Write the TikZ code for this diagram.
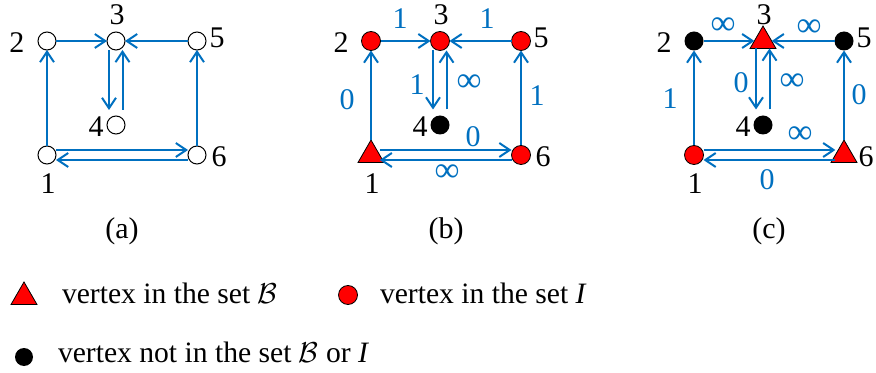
\documentclass[tikz,border=0pt]{standalone}
\usepackage{fontspec}
\setmainfont{Liberation Serif}
\usetikzlibrary{arrows.meta,shapes.geometric,calc}
\definecolor{eblue}{HTML}{0070C0}
\begin{document}
\begin{tikzpicture}[x=0.5pt,y=-0.5pt,
  every node/.style={inner sep=0pt, outer sep=0pt},
  arr/.style={draw=eblue, line width=1pt, -{Straight Barb[length=5.2pt,width=7pt]}},
  vopen/.style={circle, draw=black, fill=white, line width=0.5pt, minimum size=9pt},
  vred/.style={circle, draw=black, fill=red, line width=0.4pt, minimum size=9.5pt},
  vblack/.style={circle, fill=black, minimum size=9.5pt},
  vtri/.style={regular polygon, regular polygon sides=3, draw=black, fill=red, line width=0.4pt, minimum size=15pt},
  lab/.style={font=\fontsize{15}{17}\selectfont},
  elab/.style={font=\fontsize{15}{17}\selectfont, text=eblue},
  einf/.style={font=\fontsize{17.5}{19}\selectfont, text=eblue},
  leg/.style={font=\fontsize{14.8}{17}\selectfont, anchor=base west}]
\useasboundingbox (0,0) rectangle (876,373);

% ---- panel (a)
\node[vopen] (a1) at (47,155) {};
\node[vopen] (a2) at (47,41) {};
\node[vopen] (a3) at (116,41) {};
\node[vopen] (a4) at (116,125) {};
\node[vopen] (a5) at (197,41) {};
\node[vopen] (a6) at (197,155) {};

% ---- panel (b)
\begin{scope}[shift={(324,0)}]
\node[vtri] (b1) at (47,155) {};
\node[vred] (b2) at (47,41) {};
\node[vred] (b3) at (116,41) {};
\node[vblack] (b4) at (116,125) {};
\node[vred] (b5) at (197,41) {};
\node[vred] (b6) at (197,155) {};
\node[elab] (b-e23) at (76,19) {1};
\node[elab] (b-e53) at (163,19) {1};
\node[elab] (b-e34) at (93,85) {1};
\node[einf] (b-e43) at (145,83) {∞};
\node[elab] (b-e12) at (23,100) {0};
\node[elab] (b-e65) at (213,96) {1};
\node[elab] (b-e16) at (149,137) {0};
\node[einf] (b-e61) at (123,173) {∞};
\end{scope}

% ---- panel (c)
\begin{scope}[shift={(647,0)}]
\node[vred] (c1) at (47,155) {};
\node[vblack] (c2) at (47,41) {};
\node[vtri] (c3) at (116,41) {};
\node[vblack] (c4) at (116,125) {};
\node[vblack] (c5) at (197,41) {};
\node[vtri] (c6) at (197,155) {};
\node[einf] (c-e23) at (76,26) {∞};
\node[einf] (c-e53) at (162,28) {∞};
\node[elab] (c-e34) at (94,83) {0};
\node[einf] (c-e43) at (145,82) {∞};
\node[elab] (c-e12) at (23,99) {1};
\node[elab] (c-e65) at (212,95) {0};
\node[einf] (c-e16) at (153,135) {∞};
\node[elab] (c-e61) at (120,180) {0};
\end{scope}

% ---- common vertex labels, edges and captions
\foreach \p/\dx/\cap in {a/0/(a), b/324/(b), c/647/(c)}{
  \begin{scope}[shift={(\dx,0)}]
    \node[lab] (\p-t1) at (48,184) {1};
    \node[lab] (\p-t2) at (17,43) {2};
    \node[lab] (\p-t3) at (117,15) {3};
    \node[lab] (\p-t4) at (96,127) {4};
    \node[lab] (\p-t5) at (217,38) {5};
    \node[lab] (\p-t6) at (219,157) {6};
    \node[lab] (\p-cap) at (122,231) {\cap};
  \end{scope}
  \draw[arr] (\p1.north) -- (\p2.south);
  \draw[arr] (\p2.east) -- (\p3.west);
  \draw[arr] (\p5.west) -- (\p3.east);
  \draw[arr] (\p6.north) -- (\p5.south);
  \draw[arr, shorten >=3pt] ([xshift=-3.5pt]\p3.south) -- ([xshift=-3.5pt]\p4.north);
  \draw[arr, shorten <=3pt] ([xshift=3.25pt]\p4.north) -- ([xshift=3.25pt]\p3.south);
  \draw[arr] ([yshift=2.5pt]\p1.east) -- ([yshift=2.5pt]\p6.west);
  \draw[arr] ([yshift=-2.5pt]\p6.west) -- ([yshift=-2.5pt]\p1.east);
}

% ---- legend
\node[vtri] (ltri) at (24,297) {};
\node[leg] (ltxt1) at (62,303) {vertex in the set $\mathcal{B}$};
\node[vred] (lred) at (348,295) {};
\node[leg] (ltxt2) at (380,303) {vertex in the set \textit{I}};
\node[vblack, minimum size=9pt] (lblk) at (24,357) {};
\node[leg] (ltxt3) at (58,362) {vertex not in the set $\mathcal{B}$ or \textit{I}};
\end{tikzpicture}
\end{document}
